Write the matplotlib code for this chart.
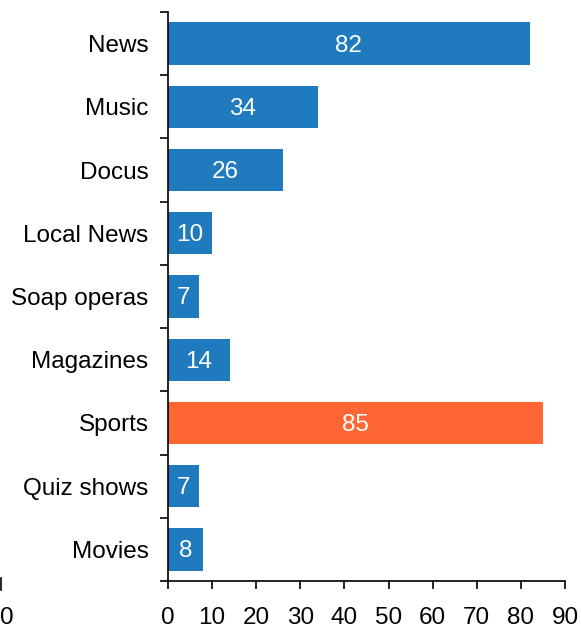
import numpy as np
import matplotlib.pyplot as plt
from matplotlib.lines import Line2D

# dữ liệu
categories = ['News', 'Music', 'Docus', 'Local News', 'Soap operas',
              'Magazines', 'Sports', 'Quiz shows', 'Movies']
values = [82, 34, 26, 10, 7, 14, 85, 7, 8]
highlight = 'Sports'
xticks = [0, 10, 20, 30, 40, 50, 60, 70, 80, 90]

blue = '#1f7bbd'
orange = '#ff6633'
plt.rcParams['font.family'] = ['Liberation Sans', 'DejaVu Sans']
fs = 17.5

W, H = 581, 630
fig = plt.figure(figsize=(W / 100, H / 100), dpi=100)
ax = fig.add_axes([168 / W, (H - 581) / H, (565 - 168) / W, (581 - 12) / H])

n = len(categories)
pos = np.arange(n)
colors = [orange if c == highlight else blue for c in categories]
ax.barh(pos, values, height=0.67, color=colors)

# nhãn giá trị trong thanh
for p, v in zip(pos, values):
    ax.text(v / 2, p + 0.03, str(v), ha='center', va='center', color='white', fontsize=fs)

ax.set_ylim(n - 0.5, -0.5)
ax.set_xlim(0, 90)
ax.set_xticks(xticks)
ax.set_yticks(pos)
ax.set_yticklabels(categories)
ax.set_yticks(np.arange(n + 1) - 0.5, minor=True)

ax.tick_params(axis='y', which='major', length=0, pad=14, labelsize=fs)
ax.tick_params(axis='y', which='minor', length=6, width=1.2)
ax.tick_params(axis='x', length=6, width=1.2, labelsize=fs, pad=13)

ax.spines['top'].set_visible(False)
ax.spines['right'].set_visible(False)
ax.spines['left'].set_linewidth(1.2)
ax.spines['bottom'].set_linewidth(1.2)

# phần trục bị cắt ở góc trái dưới
fig.add_artist(Line2D([1 / W, 1 / W], [(H - 578) / H, (H - 590) / H],
                      color='black', lw=1.2, transform=fig.transFigure))
fig.text(0, (H - 618) / H, '0', fontsize=fs, va='center', ha='left')

plt.savefig('out.png', dpi=100)
